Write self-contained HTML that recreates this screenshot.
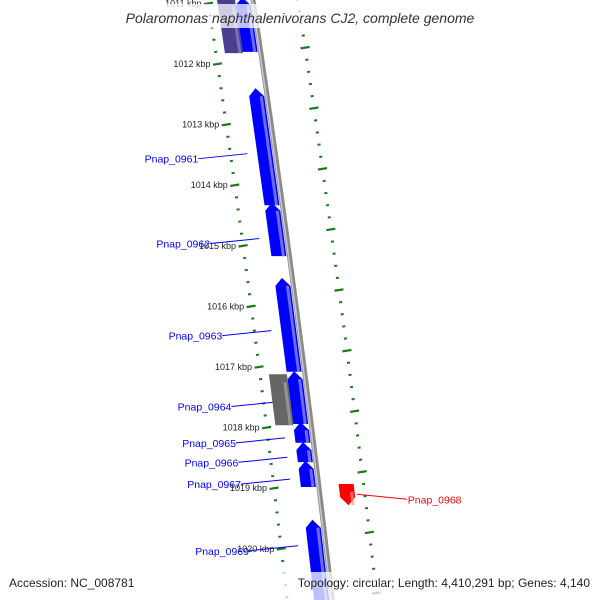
<!DOCTYPE html>
<html><head><meta charset="utf-8"><style>
body{margin:0;background:#fff;}
svg{display:block;font-family:"Liberation Sans",sans-serif;}
</style></head><body>
<svg id="map" width="600" height="600" viewBox="0 0 600 600">
<g id="layer"></g>
<rect x="108" y="4" width="386" height="24" fill="#fff" fill-opacity="0.75"/>
<text x="300" y="23" text-anchor="middle" font-size="14" font-style="italic" fill="#333">Polaromonas naphthalenivorans CJ2, complete genome</text>
<rect x="0" y="572" width="600" height="28" fill="#fff" fill-opacity="0.75"/>
<text x="9" y="587" font-size="12" fill="#222">Accession: NC_008781</text>
<text x="590" y="587" text-anchor="end" font-size="12" fill="#222">Topology: circular; Length: 4,410,291 bp; Genes: 4,140</text>
</svg>
<script>
// data
const tickKbp = [1011,1012,1013,1014,1015,1016,1017,1018,1019,1020,1021];
const geneNames = ["gene-top","Pnap_0961","Pnap_0962","Pnap_0963","Pnap_0964","Pnap_0965","Pnap_0966","Pnap_0967","Pnap_0969","gene-gray","gene-purple","Pnap_0968"];
const geneStart = [1010.9,1012.40,1014.29,1015.53,1017.07,1017.91,1018.24,1018.55,1019.52,1017.12,1010.9,1018.93];
const geneEnd   = [1011.80,1014.33,1015.17,1017.08,1017.94,1018.25,1018.57,1018.98,1021.2,1017.96,1011.82,1019.28];
const geneTrack = ["fwd","fwd","fwd","fwd","fwd","fwd","fwd","fwd","fwd","inner","inner","outer"];
const geneLabelKbp = [null,1013.48,1014.88,1016.40,1017.57,1018.17,1018.49,1018.85,1019.95,null,null,1019.10];

const svgNS="http://www.w3.org/2000/svg";
const layer=document.getElementById('layer');
function yOf(k){return 64+(k-1012)*60.6;}
function xB(y){return 253+0.15*y-0.00003*y*y;}
function mk(tag,attrs){const e=document.createElementNS(svgNS,tag);for(const a in attrs)e.setAttribute(a,attrs[a]);layer.appendChild(e);return e;}

// backbone
let d="";for(let y=-5;y<=605;y+=5){d+=(y===-5?"M":"L")+xB(y).toFixed(1)+","+y;}
let bb=mk('path',{d:d,stroke:'#8a8a8a','stroke-width':5,fill:'none'});


let bb2=mk('path',{d:d,stroke:'#c8c8c8','stroke-width':1.5,fill:'none',transform:'translate(-1,0)'});



// rulers
[-45,45].forEach((off,ri)=>{
  for(let k=1010.8;k<=1021.2;k+=0.2){
    const kk=Math.round(k*5)/5;
    const shift = ri===1 ? -0.27 : 0;
    const y=yOf(kk+shift); if(y<-5||y>605) continue;
    const x=xB(y)+off;
    const major=Math.abs(kk-Math.round(kk))<0.01;
    const w=major?9:3;
    const t=mk('line',{x1:x-w/2,y1:y+w*0.08,x2:x+w/2,y2:y-w*0.08,stroke:'#1a7a1a','stroke-width':major?2.2:2});
    
    
  }
});
tickKbp.forEach(k=>{
  const y=yOf(k); if(y<0||y>600) return;
  const x=xB(y)-45-7;
  const t=mk('text',{x:x,y:y+3,'text-anchor':'end','font-size':9,fill:'#222'});
  t.textContent=k+" kbp";
  
  
});

// genes
const trackOff={fwd:[-18,-3],inner:[-36,-18],outer:[20,35]};
const trackCol={fwd:['#0000ff','#9999ff'],inner:['#666666','#aaaaaa'],outer:['#ff0000','#ff9999']};
geneNames.forEach((n,i)=>{
  let y1=yOf(geneStart[i]),y2=yOf(geneEnd[i]);
  const tr=geneTrack[i];
  let [a,b]=trackOff[tr];
  let col=trackCol[tr];
  if(n==='gene-purple') col=['#4a3f8f','#8f88c0'];
  const h=8;
  let pts;
  if(tr==='fwd'){
    const xm=(a+b)/2;
    pts=[[xB(y2)+a,y2],[xB(y2)+b,y2],[xB(y1+h)+b,y1+h],[xB(y1)+xm,y1],[xB(y1+h)+a,y1+h]];
  } else if(tr==='outer'){
    const xm=(a+b)/2;
    pts=[[xB(y1)+a,y1],[xB(y1)+b,y1],[xB(y2-h)+b,y2-h],[xB(y2)+xm,y2],[xB(y2-h)+a,y2-h]];
  } else {
    pts=[[xB(y1)+a,y1],[xB(y1)+b,y1],[xB(y2)+b,y2],[xB(y2)+a,y2]];
  }
  const g=mk('polygon',{points:pts.map(p=>p[0].toFixed(1)+","+p[1].toFixed(1)).join(" "),fill:col[0]});
  
  
  const s=mk('line',{x1:xB(y1+h)+b-3,y1:y1+h,x2:xB(y2)+b-3,y2:y2,stroke:col[1],'stroke-width':3,'stroke-opacity':0.7});
  
  
  if(geneLabelKbp[i]!==null){
    const ly=yOf(geneLabelKbp[i]);
    const red=tr==='outer';
    const lc=red?'#ff0000':'#0000ff';
    let x1,x2,ty;
    if(red){x1=xB(ly)+b+2;x2=x1+50;}
    else{x1=xB(ly)-28;x2=x1-49;}
    const ln=mk('line',{x1:x1,y1:ly,x2:x2,y2:ly+5,stroke:lc,'stroke-width':1});
    
    
    const t=mk('text',{x:red?x2+1:x2,y:ly+9,'text-anchor':red?'start':'end','font-size':10.5,fill:lc});
    t.textContent=n;
    
    
  }
});
</script>
</body></html>
